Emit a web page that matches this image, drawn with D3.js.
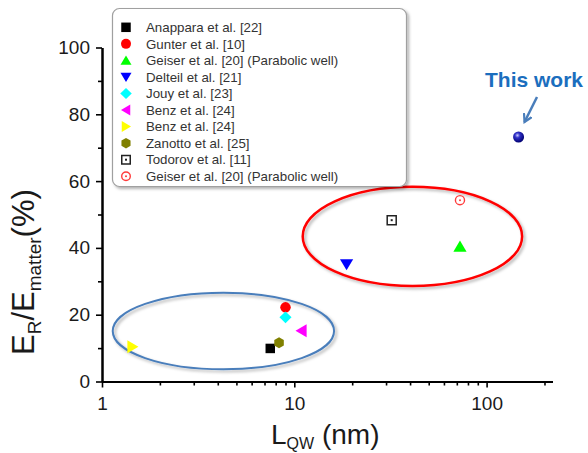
<!DOCTYPE html>
<html><head><meta charset="utf-8">
<script src="https://cdn.jsdelivr.net/npm/d3@7"></script>
<style>
html,body{margin:0;padding:0;background:#fff;}
svg{display:block;font-family:"Liberation Sans",Arial,sans-serif;}
</style></head>
<body>
<svg id="chart" width="588" height="453"></svg>
<script>
// ---- data ----
const seriesLabels = ["Anappara et al. [22]","Gunter et al. [10]","Geiser et al. [20] (Parabolic well)","Delteil et al. [21]","Jouy et al. [23]","Benz et al. [24]","Benz et al. [24]","Zanotto et al. [25]","Todorov et al. [11]","Geiser et al. [20] (Parabolic well)"];
const seriesShapes = ["square","circle","triUp","triDown","diamond","triLeft","triRight","hexagon","openSquare","openCircle"];
const seriesColors = ["#000000","#ff0000","#00ff00","#0000ff","#00ffff","#ff00ff","#ffff00","#808000","#222222","#ff3b3b"];
const seriesX = [7.5, 9.0, 72.7, 18.7, 9.0, 10.9, 1.44, 8.33, 32.1, 72.7];   // L_QW (nm)
const seriesY = [9.9, 22.2, 40.4, 35.1, 19.2, 15.2, 10.4, 11.6, 48.3, 54.3]; // E_R/E_matter (%)
const thisWorkX = [146.6];
const thisWorkY = [73.2];
const xMajorTicks = [1, 10, 100];
const xMinorTicks = [2,3,4,5,6,7,8,9,20,30,40,50,60,70,80,90,200];
const yMajorTicks = [0, 20, 40, 60, 80, 100];
const yMinorTicks = [10, 30, 50, 70, 90];
const blueEllipseX = [1.137, 16.1], blueEllipseY = [3.65, 26.6];
const redEllipseX = [11.06, 153], redEllipseY = [28.6, 58.3];

const svg = d3.select("#chart");
const x = d3.scaleLog().domain([1, 220]).range([102, 102 + 192.3 * Math.log10(220)]);
const y = d3.scaleLinear().domain([0, 100]).range([381.5, 47.5]);

const defs = svg.append("defs");
const sh = defs.append("filter").attr("id","shadow").attr("x","-20%").attr("y","-20%").attr("width","140%").attr("height","140%");
sh.append("feDropShadow").attr("dx",2).attr("dy",2).attr("stdDeviation",1.5).attr("flood-color","#000").attr("flood-opacity",0.3);
const grad = defs.append("radialGradient").attr("id","ball").attr("cx","0.4").attr("cy","0.35").attr("r","0.65");
grad.append("stop").attr("offset","0%").attr("stop-color","#c8c8ff");
grad.append("stop").attr("offset","35%").attr("stop-color","#3030c8");
grad.append("stop").attr("offset","100%").attr("stop-color","#000070");
defs.append("marker").attr("id","arrowhead").attr("viewBox","0 0 10 10").attr("refX",8).attr("refY",5)
  .attr("markerWidth",4).attr("markerHeight",4).attr("orient","auto")
  .append("path").attr("d","M1,1 L8,5 L1,9").attr("fill","none").attr("stroke","#4a7ebb").attr("stroke-width",2.2).attr("stroke-linecap","round");

// ---- ellipses ----
function drawEllipse(xs, ys, color, w){
  const x0 = x(xs[0]), x1 = x(xs[1]), y0 = y(ys[1]), y1 = y(ys[0]);
  svg.append("ellipse").attr("cx",(x0+x1)/2).attr("cy",(y0+y1)/2).attr("rx",(x1-x0)/2).attr("ry",(y1-y0)/2)
    .attr("fill","none").attr("stroke",color).attr("stroke-width",w).attr("filter","url(#shadow)");
}
drawEllipse(blueEllipseX, blueEllipseY, "#4a7ebb", 2);
drawEllipse(redEllipseX, redEllipseY, "#ff0000", 2.5);

// ---- axes ----
const axisFont = "19px";
svg.append("g").attr("transform",`translate(${x(1)},0)`)
  .call(d3.axisLeft(y).tickValues(yMajorTicks).tickSize(6).tickSizeOuter(0).tickPadding(6).tickFormat(d3.format("d")));
svg.append("g").attr("transform",`translate(${x(1)},0)`)
  .call(d3.axisLeft(y).tickValues(yMinorTicks).tickSize(4).tickSizeOuter(0).tickFormat(""));
svg.append("g").attr("transform",`translate(0,${y(0)})`)
  .call(d3.axisBottom(x).tickValues(xMajorTicks).tickSize(6).tickSizeOuter(0).tickPadding(9).tickFormat(d3.format("d")));
svg.append("g").attr("transform",`translate(0,${y(0)})`)
  .call(d3.axisBottom(x).tickValues(xMinorTicks).tickSize(4).tickSizeOuter(0).tickFormat(""));
svg.selectAll(".domain").attr("stroke","#000").attr("stroke-width",2);
svg.selectAll(".tick line").attr("stroke","#000").attr("stroke-width",1.6);
svg.selectAll(".tick text").attr("font-size",axisFont).attr("fill","#1a1a1a").attr("font-family","Liberation Sans, Arial, sans-serif");

// axis titles
const xt = svg.append("text").attr("x",271).attr("y",444).attr("font-size","28px").attr("fill","#1a1a1a");
xt.append("tspan").text("L");
xt.append("tspan").attr("font-size","16px").attr("dy",5).text("QW");
xt.append("tspan").attr("dy",-5).text(" (nm)");

const yt = svg.append("text").attr("transform","translate(34,355) rotate(-90)").attr("font-size","31px").attr("fill","#1a1a1a");
yt.append("tspan").text("E");
yt.append("tspan").attr("font-size","19px").attr("dy",7).text("R");
yt.append("tspan").attr("dy",-7).text("/E");
yt.append("tspan").attr("font-size","19px").attr("dy",7).text("matter");
yt.append("tspan").attr("dy",-7).text("(%)");

// ---- marker shapes ----
function shapePath(type, s){
  const r = s/2;
  switch(type){
    case "square": case "openSquare": return `M${-r},${-r}H${r}V${r}H${-r}Z`;
    case "triUp": return `M0,${-r*1.0}L${r*1.1},${r*0.85}L${-r*1.1},${r*0.85}Z`;
    case "triDown": return `M0,${r*1.0}L${r*1.1},${-r*0.85}L${-r*1.1},${-r*0.85}Z`;
    case "triLeft": return `M${-r*1.0},0L${r*0.85},${-r*1.1}L${r*0.85},${r*1.1}Z`;
    case "triRight": return `M${r*1.0},0L${-r*0.85},${-r*1.1}L${-r*0.85},${r*1.1}Z`;
    case "diamond": return `M0,${-r*1.1}L${r*1.15},0L0,${r*1.1}L${-r*1.15},0Z`;
    case "hexagon": { let p=[]; for(let i=0;i<6;i++){const a=Math.PI/6+i*Math.PI/3; p.push([r*1.05*Math.cos(a), r*1.05*Math.sin(a)]);} return "M"+p.map(d=>d.join(",")).join("L")+"Z"; }
  }
}
function drawMarker(g, type, color, cx, cy, s){
  if(type==="circle"){
    g.append("circle").attr("cx",cx).attr("cy",cy).attr("r",s/2).attr("fill",color);
  } else if(type==="openCircle"){
    g.append("circle").attr("cx",cx).attr("cy",cy).attr("r",s/2-0.7).attr("fill","#fff").attr("stroke",color).attr("stroke-width",1.4);
    g.append("circle").attr("cx",cx).attr("cy",cy).attr("r",1).attr("fill",color);
  } else if(type==="openSquare"){
    g.append("path").attr("transform",`translate(${cx},${cy})`).attr("d",shapePath(type,s-1.5)).attr("fill","#fff").attr("stroke",color).attr("stroke-width",1.5);
    g.append("rect").attr("x",cx-1).attr("y",cy-1).attr("width",2).attr("height",2).attr("fill",color);
  } else {
    g.append("path").attr("transform",`translate(${cx},${cy})`).attr("d",shapePath(type,s)).attr("fill",color);
  }
}

// ---- legend ----
const lg = svg.append("g");
lg.append("rect").attr("x",112.5).attr("y",8.5).attr("width",294).attr("height",178).attr("rx",7)
  .attr("fill","#fff").attr("stroke","#a0a0a0").attr("stroke-width",1.2).attr("filter","url(#shadow)");
seriesLabels.forEach((lab,i)=>{
  const cy = 27.3 + i*16.55;
  drawMarker(lg, seriesShapes[i], seriesColors[i], 126, cy, seriesShapes[i]==="square"?9.5:10);
  lg.append("text").attr("x",146).attr("y",cy).attr("dy","0.36em").attr("font-size","13.3px").attr("fill","#333").text(lab);
});

// ---- data points ----
const pg = svg.append("g");
seriesX.forEach((vx,i)=>{
  const s = seriesShapes[i]==="square"?9.5:(seriesShapes[i].startsWith("tri")?12:10.5);
  drawMarker(pg, seriesShapes[i], seriesColors[i], x(vx), y(seriesY[i]), s);
});
thisWorkX.forEach((vx,i)=>{
  svg.append("circle").attr("cx",x(vx)).attr("cy",y(thisWorkY[i])).attr("r",5.5).attr("fill","url(#ball)");
});

// ---- annotation ----
svg.append("text").attr("x",485).attr("y",87).attr("font-size","21px").attr("font-weight","bold").attr("fill","#1b6ebe").text("This work");
svg.append("line").attr("x1",537).attr("y1",97).attr("x2",524.5).attr("y2",122)
  .attr("stroke","#4a7ebb").attr("stroke-width",2.5).attr("marker-end","url(#arrowhead)");
</script>
</body></html>
